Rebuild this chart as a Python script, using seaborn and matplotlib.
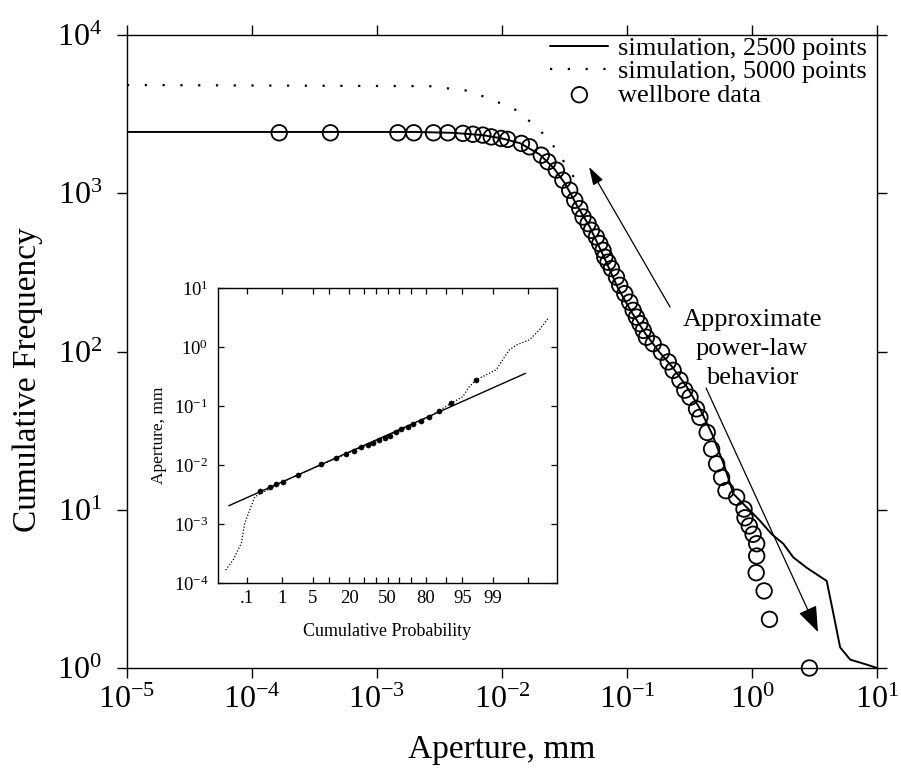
import math
import numpy as np
import pandas as pd
import matplotlib
matplotlib.use("Agg")
import matplotlib.pyplot as plt
import seaborn as sns
from matplotlib.ticker import FixedLocator, FixedFormatter, NullLocator

# ---------------- data ----------------
sim2500_aperture = [1e-5, 2e-3, 4e-3, 7e-3, 1e-2, 1.4e-2, 2e-2, 2.6e-2, 3.2e-2, 4e-2,
                    5e-2, 6.5e-2, 8.5e-2, 0.11, 0.14, 0.18, 0.23, 0.3, 0.38, 0.48,
                    0.6, 0.71, 0.85, 1.0, 1.16, 1.44, 1.78, 2.14, 2.74, 3.96,
                    4.48, 5.07, 6.1, 8.3, 10.0]
sim2500_count = [2440, 2440, 2410, 2330, 2220, 2070, 1760, 1440, 1150, 830,
                 620, 400, 250, 175, 130, 100, 80, 60, 44, 30,
                 19, 12.6, 10.9, 9.6, 8.5, 7.0, 6.1, 5.0, 4.3, 3.55,
                 2.2, 1.35, 1.13, 1.05, 1.0]

sim5000_aperture = [1e-5, 2.63e-3, 5.5e-3, 9.6e-3, 1.3e-2, 1.72e-2, 2.27e-2, 2.81e-2, 3.27e-2, 3.82e-2]
sim5000_count = [4830, 4750, 4430, 3720, 3350, 2790, 2270, 1820, 1490, 1240]

well_aperture = [1.65e-4, 4.24e-4, 1.47e-3, 1.97e-3, 2.83e-3, 3.69e-3, 4.87e-3, 5.85e-3, 7.03e-3, 8.2e-3,
                 9.86e-3, 1.11e-2, 1.43e-2, 1.66e-2, 2.06e-2, 2.33e-2, 2.72e-2, 3.07e-2, 3.48e-2, 3.82e-2,
                 0.0419, 0.0445, 0.0488, 0.0519, 0.0569, 0.0605, 0.0643, 0.0664, 0.0705, 0.0751,
                 0.0824, 0.0875, 0.0960, 0.1052, 0.112, 0.119, 0.127, 0.135, 0.143, 0.162,
                 0.189, 0.214, 0.234, 0.265, 0.290, 0.319, 0.360, 0.383, 0.438, 0.475,
                 0.521, 0.571, 0.619, 0.754, 0.863, 0.879, 0.951, 1.02, 1.09, 1.09,
                 1.08, 1.25, 1.38, 2.88]
well_count = [2410, 2410, 2410, 2410, 2410, 2410, 2390, 2360, 2330, 2270,
              2220, 2190, 2065, 1965, 1740, 1580, 1400, 1210, 1045, 903,
              800, 708, 643, 583, 529, 481, 436, 395, 367, 334,
              295, 262, 232, 205, 182, 165, 150, 136, 123, 112,
              99, 86, 76, 66, 57, 51.4, 43.4, 38.4, 30.8, 24.2,
              19.5, 16.0, 13.2, 12.0, 10.1, 8.9, 7.9, 7.0, 6.1, 5.1,
              4.0, 3.07, 2.03, 1.0]

x_ticks = [1e-5, 1e-4, 1e-3, 1e-2, 1e-1, 1e0, 1e1]
y_ticks = [1e0, 1e1, 1e2, 1e3, 1e4]

legend_labels = ["simulation, 2500 points", "simulation, 5000 points", "wellbore data"]
annotation_text = "Approximate\npower-law\nbehavior"

# inset: normal-probability plot
inset_prob_ticks = [0.1, 1, 5, 20, 50, 80, 95, 99]
inset_prob_labels = [".1", "1", "5", "20", "50", "80", "95", "99"]
inset_minor_ticks = [10, 30, 40, 60, 70, 90, 99.9]
inset_y_ticks = [1e-4, 1e-3, 1e-2, 1e-1, 1e0, 1e1]

inset_fit_prob = [0.024, 99.88]
inset_fit_aperture = [2.04e-3, 0.358]

inset_sim_prob = [0.0185, 0.034, 0.065, 0.084, 0.122, 0.175, 1.07, 13.0, 50.0, 82.2,
                  91.9, 95.1, 96.4, 97.4, 99.16, 99.43, 99.63, 99.77, 99.91, 99.958, 99.981]
inset_sim_aperture = [1.66e-4, 2.45e-4, 4.71e-4, 1.03e-3, 1.73e-3, 2.9e-3, 5.2e-3, 0.013, 0.031, 0.066,
                      0.111, 0.144, 0.212, 0.276, 0.41, 0.60, 0.89, 1.08, 1.32, 1.94, 3.2]

inset_well_prob = [0.25, 0.48, 0.72, 1.07, 2.44, 7.25, 13.0, 17.8, 22.8, 28.1, 33.3, 37.9,
                   43.0, 47.4, 51.8, 57.5, 61.8, 67.3, 71.1, 77.0, 82.2, 87.1, 91.9, 97.4]
inset_well_aperture = [3.6e-3, 4.2e-3, 4.7e-3, 5.2e-3, 6.8e-3, 0.0104, 0.0130, 0.0152, 0.0175, 0.0200,
                       0.0218, 0.0239, 0.0265, 0.0287, 0.031, 0.0367, 0.0403, 0.0446, 0.0495, 0.0557,
                       0.0659, 0.0833, 0.111, 0.276]

# ---------------- normal probability scale ----------------
_a = [-3.969683028665376e+01, 2.209460984245205e+02, -2.759285104469687e+02,
      1.383577518672690e+02, -3.066479806614716e+01, 2.506628277459239e+00]
_b = [-5.447609879822406e+01, 1.615858368580409e+02, -1.556989798598866e+02,
      6.680131188771972e+01, -1.328068155288572e+01]
_c = [-7.784894002430293e-03, -3.223964580411365e-01, -2.400758277161838e+00,
      -2.549732539343734e+00, 4.374664141464968e+00, 2.938163982698783e+00]
_d = [7.784695709041462e-03, 3.224671290700398e-01, 2.445134137142996e+00,
      3.754408661907416e+00]


def _ppf(p):
    p = np.clip(np.asarray(p, dtype=float), 1e-12, 1 - 1e-12)
    plow = 0.02425
    q = np.sqrt(-2 * np.log(np.where(p < 0.5, p, 1 - p)))
    tail = (((((_c[0] * q + _c[1]) * q + _c[2]) * q + _c[3]) * q + _c[4]) * q + _c[5]) / \
           ((((_d[0] * q + _d[1]) * q + _d[2]) * q + _d[3]) * q + 1)
    tail = np.where(p < 0.5, tail, -tail)
    r0 = p - 0.5
    r = r0 * r0
    cent = (((((_a[0] * r + _a[1]) * r + _a[2]) * r + _a[3]) * r + _a[4]) * r + _a[5]) * r0 / \
           (((((_b[0] * r + _b[1]) * r + _b[2]) * r + _b[3]) * r + _b[4]) * r + 1)
    return np.where((p >= plow) & (p <= 1 - plow), cent, tail)


_erf = np.vectorize(math.erf, otypes=[float])


def prob_forward(x):
    return _ppf(np.asarray(x, dtype=float) / 100.0)


def prob_inverse(z):
    z = np.asarray(z, dtype=float)
    return 100.0 * 0.5 * (1.0 + _erf(z / math.sqrt(2.0)))


# ---------------- style ----------------
sns.set_theme(style="ticks")
plt.rcParams["font.family"] = ["Liberation Serif", "DejaVu Serif"]
plt.rcParams["mathtext.fontset"] = "custom"
plt.rcParams["mathtext.rm"] = "Liberation Serif"
plt.rcParams["mathtext.it"] = "Liberation Serif:italic"
plt.rcParams["mathtext.bf"] = "Liberation Serif:bold"
plt.rcParams["axes.linewidth"] = 1.0
plt.rcParams["axes.edgecolor"] = "black"
plt.rcParams["xtick.color"] = "black"
plt.rcParams["ytick.color"] = "black"
plt.rcParams["text.color"] = "black"
plt.rcParams["axes.labelcolor"] = "black"

W, H = 901, 777
fig = plt.figure(figsize=(W / 100, H / 100), dpi=100)
fig.patch.set_facecolor("white")

# ---------------- main axes ----------------
ax = fig.add_axes([127 / W, 1 - 668 / H, 750 / W, 633 / H])
ax.set_xscale("log")
ax.set_yscale("log")

sns.lineplot(x=sim2500_aperture, y=sim2500_count, ax=ax, color="black", lw=1.4,
             estimator=None, sort=False, label=legend_labels[0])
sns.lineplot(x=sim5000_aperture, y=sim5000_count, ax=ax, color="black", lw=1.6,
             linestyle=(0, (1, 7)), estimator=None, sort=False, label=legend_labels[1])
sns.scatterplot(x=well_aperture, y=well_count, ax=ax, marker="o", s=125,
                facecolors="none", edgecolor="black", linewidth=1.3,
                label=legend_labels[2], clip_on=False, zorder=3)

ax.set_xlim(1e-5, 1e1)
ax.set_ylim(1e0, 1e4)
ax.xaxis.set_major_locator(FixedLocator(x_ticks))
ax.yaxis.set_major_locator(FixedLocator(y_ticks))
ax.xaxis.set_minor_locator(NullLocator())
ax.yaxis.set_minor_locator(NullLocator())
ax.tick_params(which="major", direction="out", length=7, width=1.0,
               top=True, right=True, labelsize=23)
ax.tick_params(axis="x", pad=6)
ax.tick_params(axis="y", pad=11)

ax.set_xlabel("Aperture, mm", fontsize=24)
ax.set_ylabel("Cumulative Frequency", fontsize=24)
ax.xaxis.set_label_coords(0.5, -0.105)
ax.yaxis.set_label_coords(-0.112, 0.455)

handles, labels = ax.get_legend_handles_labels()
leg = ax.legend(handles, labels, loc="upper right", bbox_to_anchor=(0.986, 0.998),
                frameon=False, fontsize=19, handlelength=2.2, handletextpad=0.35,
                labelspacing=0.0, borderaxespad=0.0, borderpad=0.0)

# annotation arrows
ax.annotate("", xy=(0.0497, 1466), xytext=(0.221, 191),
            arrowprops=dict(arrowstyle="-|>,head_length=0.55,head_width=0.17",
                            mutation_scale=20, color="black", lw=0.9, shrinkA=0, shrinkB=0))
ax.annotate("", xy=(3.37, 1.69), xytext=(0.429, 58.8),
            arrowprops=dict(arrowstyle="-|>,head_length=0.8,head_width=0.3",
                            mutation_scale=20, color="black", lw=0.9, shrinkA=0, shrinkB=0))
ax.text(1.0, 104, annotation_text, ha="center", va="center", fontsize=19,
        linespacing=1.4)

# ---------------- inset ----------------
axin = fig.add_axes([218 / W, 1 - 583 / H, 339 / W, 295 / H])
axin.set_facecolor("white")
axin.set_xscale("function", functions=(prob_forward, prob_inverse))
axin.set_yscale("log")

sns.lineplot(x=inset_sim_prob, y=inset_sim_aperture, ax=axin, color="black", lw=0.9,
             linestyle=(0, (1, 1.5)), estimator=None, sort=False)
sns.lineplot(x=inset_fit_prob, y=inset_fit_aperture, ax=axin, color="black", lw=1.0,
             estimator=None, sort=False)
sns.scatterplot(x=inset_well_prob, y=inset_well_aperture, ax=axin, color="black",
                s=14, edgecolor="black", linewidth=0.3, zorder=3)

axin.set_xlim(0.0096, 99.9904)
axin.set_ylim(1e-4, 1e1)
axin.xaxis.set_major_locator(FixedLocator(inset_prob_ticks))
axin.xaxis.set_major_formatter(FixedFormatter(inset_prob_labels))
axin.xaxis.set_minor_locator(FixedLocator(inset_minor_ticks))
axin.yaxis.set_major_locator(FixedLocator(inset_y_ticks))
axin.yaxis.set_minor_locator(NullLocator())
axin.tick_params(which="both", direction="in", length=4, width=0.9,
                 top=True, right=True, labelsize=13.5, pad=5)
axin.tick_params(axis="y", pad=7)
axin.set_xlabel("Cumulative Probability", fontsize=13)
axin.set_ylabel("Aperture, mm", fontsize=12.5)
axin.xaxis.set_label_coords(0.5, -0.135)
axin.yaxis.set_label_coords(-0.15, 0.5)
if axin.get_legend() is not None:
    axin.get_legend().remove()

fig.savefig("out.png", dpi=100, facecolor="white")
